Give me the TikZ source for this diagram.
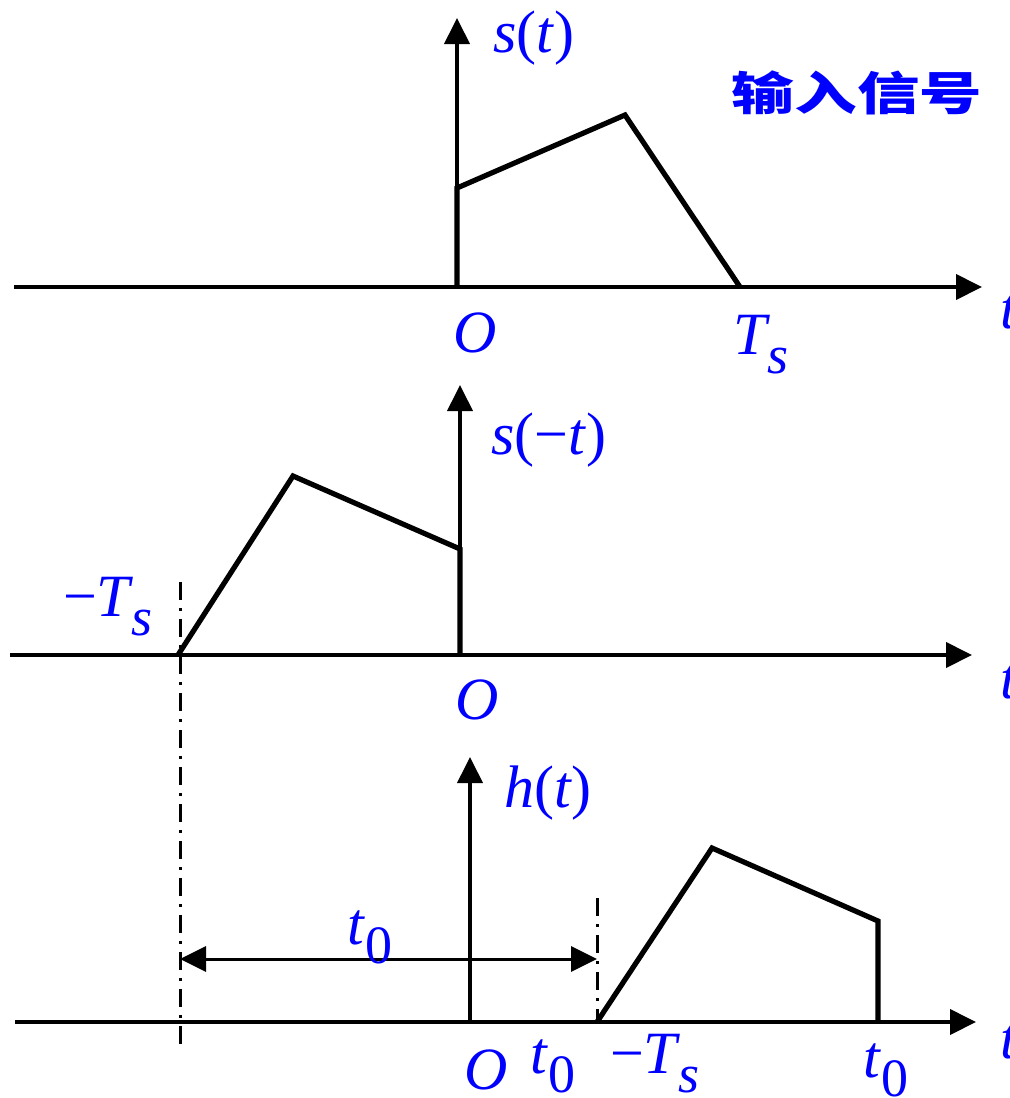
\documentclass[tikz,border=0pt]{standalone}
\usepackage{fontspec}
\setmainfont{Liberation Serif}
\newfontfamily\cjkfont{Noto Sans CJK SC}
\usetikzlibrary{arrows.meta}
\definecolor{labelblue}{HTML}{0000FF}

\newcommand{\subidx}[1]{\raisebox{-0.32em}{\fontsize{27}{27}\selectfont #1}}

\begin{document}
\begin{tikzpicture}[x=0.5pt, y=-0.5pt, >={Triangle[length=13pt, width=12.5pt]},
    every node/.style={labelblue, font=\fontsize{30}{31}\selectfont, inner sep=0pt},
    axis/.style={black, line width=2pt, ->},
    pulse/.style={black, line width=2.6pt, line join=miter},
    guide/.style={black, line width=1.5pt, dash pattern=on 9pt off 4pt on 1.5pt off 4pt}]

  \useasboundingbox (0,0) rectangle (1010,1098);

  %% 输入信号 s(t)
  \coordinate (o1) at (457,287);
  \coordinate (x1s) at (14,287);
  \coordinate (x1e) at (982,287);
  \coordinate (y1e) at (457,18);
  \coordinate (s1a) at (457,188);
  \coordinate (s1b) at (625,115);
  \coordinate (s1c) at (740,287);
  \draw[axis] (x1s) -- (x1e);
  \draw[axis] (o1) -- (y1e);
  \draw[pulse] (o1) -- (s1a) -- (s1b) -- (s1c);
  \node (lbl s1) at (534,38) {\textit{s}(\textit{t})};
  \node (lbl o1) at (475,333) {\textit{O}};
  \node (lbl ts1) at (761,345) {\textit{T}\kern-1pt\subidx{\textit{s}}};
  \node (lbl t1) at (1009,312) {\textit{t}};
  \node (title) at (857,93) {\fontsize{23}{24}\selectfont\scalebox{1.36}[1]{\cjkfont\bfseries 输入信号}};

  %% 反转信号 s(-t)
  \coordinate (o2) at (460,655);
  \coordinate (x2s) at (10,655);
  \coordinate (x2e) at (972,655);
  \coordinate (y2e) at (460,385);
  \coordinate (s2a) at (178,655);
  \coordinate (s2b) at (293,476);
  \coordinate (s2c) at (460,549);
  \draw[axis] (x2s) -- (x2e);
  \draw[axis] (o2) -- (y2e);
  \draw[pulse] (s2a) -- (s2b) -- (s2c) -- (o2);
  \node (lbl s2) at (549,440) {\textit{s}(−\textit{t})};
  \node (lbl ts2) at (108,607) {−\textit{T}\kern-1pt\subidx{\textit{s}}};
  \node (lbl o2) at (477,700) {\textit{O}};
  \node (lbl t2) at (1009,682) {\textit{t}};

  %% 匹配滤波器 h(t)
  \coordinate (o3) at (470,1022);
  \coordinate (x3s) at (15,1022);
  \coordinate (x3e) at (976,1022);
  \coordinate (y3e) at (470,757);
  \coordinate (s3a) at (597,1022);
  \coordinate (s3b) at (712,848);
  \coordinate (s3c) at (878,921);
  \coordinate (s3d) at (878,1022);
  \draw[axis] (x3s) -- (x3e);
  \draw[axis] (o3) -- (y3e);
  \draw[pulse] (s3a) -- (s3b) -- (s3c) -- (s3d);
  \node (lbl h) at (548,793) {\textit{h}(\textit{t})};

  %% 延时 t0
  \coordinate (g1a) at (180,582);
  \coordinate (g1b) at (180,1048);
  \coordinate (g2a) at (597,898);
  \coordinate (d1) at (180,959);
  \coordinate (d2) at (597,959);
  \draw[guide] (g1a) -- (g1b);
  \draw[guide] (g2a) -- (s3a);
  \draw[black, line width=1.5pt, <->] (d1) -- (d2);
  \node (lbl t0) at (370,937) {\textit{t}\subidx{0}};

  \node (lbl o3) at (486,1070) {\textit{O}};
  \node (lbl t0a) at (553,1066) {\textit{t}\subidx{0}};
  \node (lbl ts3) at (655,1064) {−\textit{T}\kern-1pt\subidx{\textit{s}}};
  \node (lbl t0b) at (886,1070) {\textit{t}\subidx{0}};
  \node (lbl t3) at (1009,1042) {\textit{t}};

\end{tikzpicture}
\end{document}
